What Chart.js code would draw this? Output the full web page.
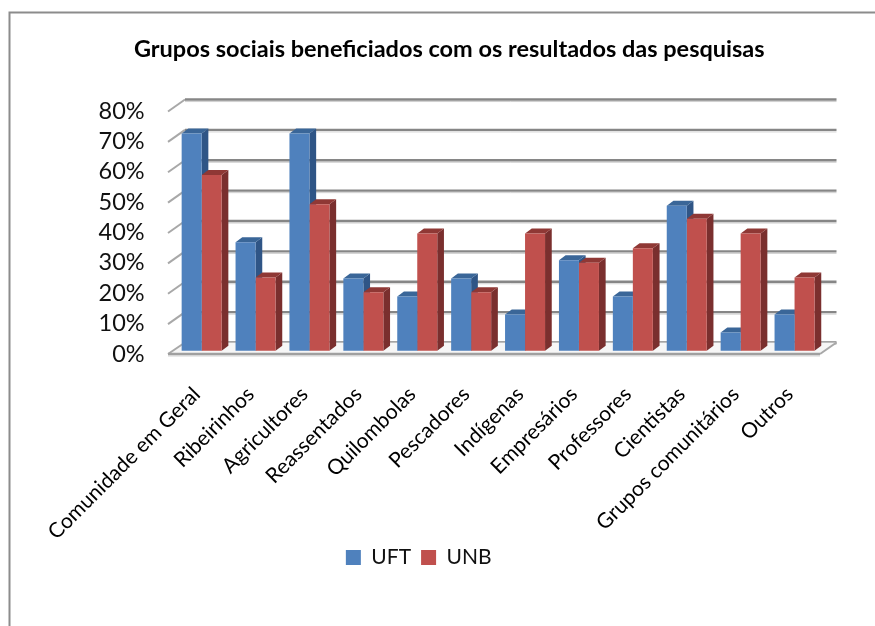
<!DOCTYPE html>
<html><head><meta charset="utf-8">
<script src="https://cdn.jsdelivr.net/npm/chart.js@4"></script>
<style>html,body{margin:0;padding:0;background:#fff}#w{position:relative;width:875px;height:626px;overflow:hidden}
canvas{display:block}</style></head><body>
<div id="w"><canvas id="c" width="875" height="626"></canvas></div>
<script>
const categories = ["Comunidade em Geral","Ribeirinhos","Agricultores","Reassentados","Quilombolas","Pescadores","Indígenas","Empresários","Professores","Cientistas","Grupos comunitários","Outros"];
const uft = [70.6,35.3,70.6,23.5,17.6,23.5,11.8,29.4,17.6,47.1,5.9,11.8];
const unb = [57.1,23.8,47.6,19.0,38.1,19.0,38.1,28.6,33.3,42.9,38.1,23.8];
const seriesNames = ["UFT","UNB"];
const title = "Grupos sociais beneficiados com os resultados das pesquisas";
const FONT = "Lato, Carlito, Calibri, sans-serif";
const DX = 6.7, DY = 5;
const sideColors = [{side:"#2f5586",top:"#3a6698"},{side:"#7a2f2e",top:"#8f3835"}];

const scene = {
  id:"scene",
  afterLayout(ch){ ch.titleBlock.left += 61; },
  beforeDraw(ch){
    const c = ch.ctx;
    c.save();
    c.fillStyle="#fff"; c.fillRect(0,0,875,626);
    c.strokeStyle="#8c8c8c"; c.lineWidth=2;
    c.beginPath(); c.moveTo(9.5,626); c.lineTo(9.5,12.5); c.lineTo(875,12.5); c.stroke();
    c.restore();
  },
  beforeDatasetsDraw(ch){
    const c = ch.ctx, s = ch.scales.y2, a = ch.chartArea;
    const lx = a.left-6.7, bx = a.left+10.3, rx = a.right+15, dy = 11.5;
    c.save();
    s.ticks.forEach(t=>{
      const y = s.getPixelForValue(t.value);
      c.lineWidth=2;
      if(t.value>0){
        c.strokeStyle="#a8a8a8";
        c.beginPath(); c.moveTo(lx,y+0.5); c.lineTo(bx,y-dy); c.stroke();
      }
      c.strokeStyle="#d0d0d0"; c.lineWidth=1;
      c.beginPath(); c.moveTo(bx,y-dy+2); c.lineTo(rx,y-dy+2); c.stroke();
      c.strokeStyle="#868686"; c.lineWidth=2.4;
      c.beginPath(); c.moveTo(bx,y-dy); c.lineTo(rx,y-dy); c.stroke();
    });
    const y0 = s.getPixelForValue(0);
    const fx = a.right-1.5;
    c.fillStyle="#f6f6f6";
    c.beginPath(); c.moveTo(lx,y0); c.lineTo(fx,y0); c.lineTo(rx,y0-dy); c.lineTo(bx,y0-dy); c.closePath(); c.fill();
    c.strokeStyle="#a8a8a8"; c.lineWidth=2;
    c.beginPath(); c.moveTo(fx,y0); c.lineTo(rx,y0-dy); c.stroke();
    c.beginPath(); c.moveTo(lx,y0); c.lineTo(bx,y0-dy); c.stroke();
    c.strokeStyle="#d4d4d4"; c.lineWidth=1;
    c.beginPath(); c.moveTo(lx,y0+2); c.lineTo(fx,y0+2); c.stroke();
    c.strokeStyle="#a0a0a0"; c.lineWidth=2.4;
    c.beginPath(); c.moveTo(lx,y0); c.lineTo(fx,y0); c.stroke();
    // sides and tops of the bars, behind all the front faces
    [0,1].forEach(i=>{
      const col = sideColors[i];
      ch.getDatasetMeta(i).data.forEach(b=>{
        const l=b.x-b.width/2, r=b.x+b.width/2, t=b.y, bt=b.base;
        c.fillStyle=col.side;
        c.beginPath(); c.moveTo(r,t); c.lineTo(r+DX,t-DY); c.lineTo(r+DX,bt-DY); c.lineTo(r,bt); c.closePath(); c.fill();
        c.fillStyle=col.top;
        c.beginPath(); c.moveTo(l,t); c.lineTo(l+DX,t-DY); c.lineTo(r+DX,t-DY); c.lineTo(r,t); c.closePath(); c.fill();
      });
    });
    c.restore();
  }
};

new Chart(document.getElementById("c"),{
  type:"bar",
  plugins:[scene],
  data:{labels:categories,datasets:[
    {label:seriesNames[0],data:uft,backgroundColor:"#4F81BD",yAxisID:"y"},
    {label:seriesNames[1],data:unb,backgroundColor:"#C0504D",yAxisID:"y"}
  ]},
  options:{
    responsive:false,animation:false,
    categoryPercentage:0.742,barPercentage:1,
    layout:{padding:{left:16,right:53.5,top:0,bottom:48}},
    plugins:{
      tooltip:{enabled:false},
      title:{display:true,text:title,color:"#000",font:{family:FONT,size:23.5,weight:"bold",lineHeight:1.2},padding:{top:35,bottom:41.5}},
      legend:{position:"bottom",labels:{boxWidth:15,boxHeight:15,color:"#111",padding:10,font:{family:FONT,size:21}}}
    },
    scales:{
      x:{grid:{display:false},border:{display:false},
        afterFit(s){s.height=183;s.paddingLeft=0;s.paddingRight=0;},
        ticks:{autoSkip:false,maxRotation:45,minRotation:45,labelOffset:-5,color:"#000",padding:20,font:{family:FONT,size:21}}},
      y:{display:false,min:-1.08,max:80},
      y2:{axis:"y",position:"left",min:0,max:82.09,grid:{display:false,drawTicks:false},border:{display:false},
        afterFit(s){s.width=158.7;s.paddingTop=0;s.paddingBottom=0;},
        ticks:{stepSize:10,autoSkip:false,includeBounds:false,color:"#111",padding:30,font:{family:FONT,size:23.5},callback:v=>v+"%"}}
    }
  }
});
</script></body></html>
